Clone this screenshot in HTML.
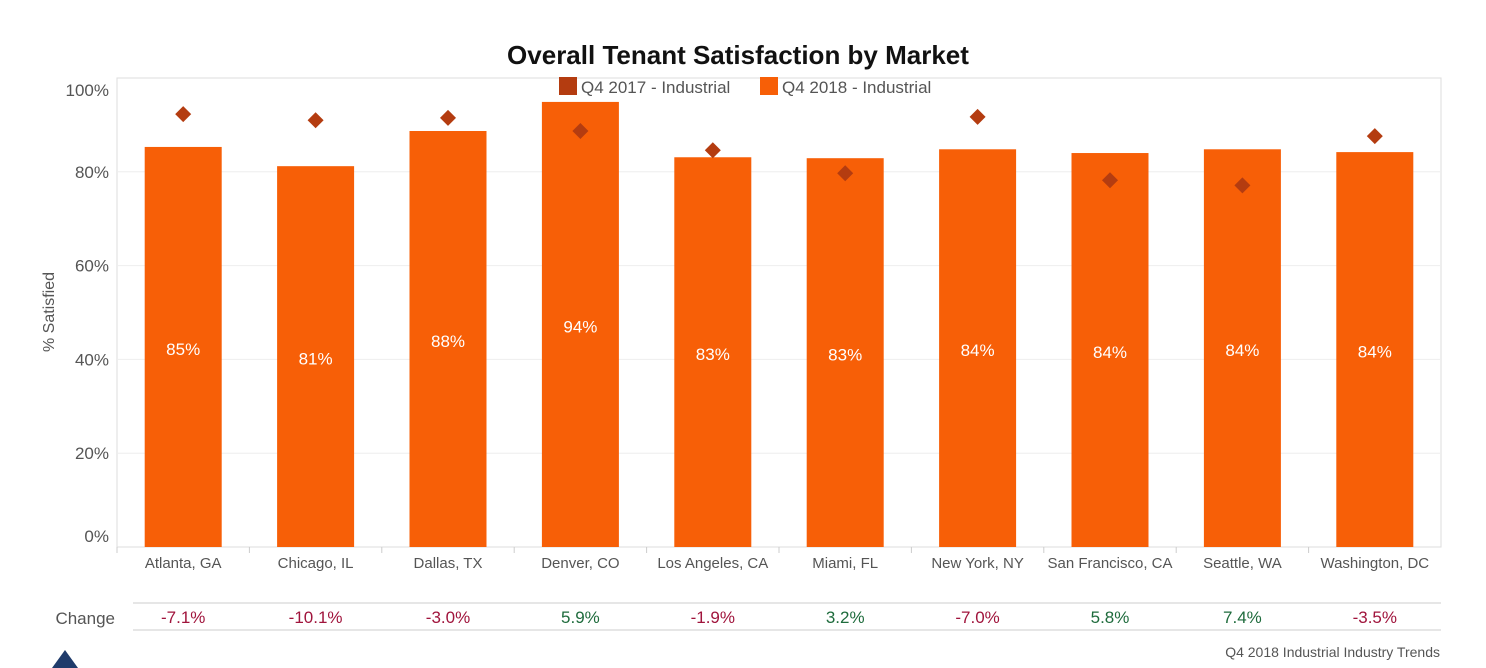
<!DOCTYPE html>
<html><head><meta charset="utf-8"><style>
body{margin:0;background:#fff;font-family:"Liberation Sans",sans-serif;}
svg{display:block}
</style></head><body>
<svg id="c" width="1486" height="668" xmlns="http://www.w3.org/2000/svg">
<text x="738" y="64" text-anchor="middle" font-size="26" font-weight="bold" fill="#111">Overall Tenant Satisfaction by Market</text>
<rect x="117" y="78" width="1324" height="469" fill="none" stroke="#ddd"/>
<g>
<rect x="559" y="77" width="18" height="18" fill="#b43c10"/>
<text x="581" y="93" font-size="17" fill="#555">Q4 2017 - Industrial</text>
<rect x="760" y="77" width="18" height="18" fill="#f75f07"/>
<text x="782" y="93" font-size="17" fill="#555">Q4 2018 - Industrial</text>
</g>
<text transform="translate(54,312) rotate(-90)" text-anchor="middle" font-size="16" fill="#555">% Satisfied</text>
<g id="grid"></g><g id="bars"></g><g id="marks"></g><g id="xl"></g><g id="chg"></g>
<line x1="133" y1="603" x2="1441" y2="603" stroke="#ccc"/>
<line x1="133" y1="630" x2="1441" y2="630" stroke="#ccc"/>
<text x="115" y="624" text-anchor="end" font-size="17" fill="#555">Change</text>
<text x="1440" y="657" text-anchor="end" font-size="14" fill="#555">Q4 2018   Industrial Industry Trends</text>
<path d="M52 668 L65 650 L78 668 Z" fill="#1f3b6b"/>
</svg>
<script>
const categories=["Atlanta, GA","Chicago, IL","Dallas, TX","Denver, CO","Los Angeles, CA","Miami, FL","New York, NY","San Francisco, CA","Seattle, WA","Washington, DC"];
const values2018=[85.3,81.2,88.7,94.9,83.1,82.9,84.8,84.0,84.8,84.2];
const labels2018=["85%","81%","88%","94%","83%","83%","84%","84%","84%","84%"];
const values2017=[92.3,91.0,91.5,88.7,84.6,79.7,91.7,78.2,77.1,87.6];
const changes=["-7.1%","-10.1%","-3.0%","5.9%","-1.9%","3.2%","-7.0%","5.8%","7.4%","-3.5%"];
const yTicks=[0,20,40,60,80,100];
const NS="http://www.w3.org/2000/svg";
const L=117,R=1441,T=78,B=547;
const y=v=>B-v/100*(B-T);
const bw=(R-L)/categories.length;
const xc=i=>L+bw*(i+0.5);
function mk(t,a,p,txt){const e=document.createElementNS(NS,t);for(const k in a)e.setAttribute(k,a[k]);if(txt!==undefined)e.textContent=txt;document.getElementById(p).appendChild(e);return e;}
yTicks.forEach(v=>{
  if(v>0&&v<100){const g=mk('line',{x1:L,x2:R,y1:y(v),y2:y(v),stroke:'#eee'},'grid');
  
  }
  let ty=y(v)+6; if(v===0)ty=y(v)-5; if(v===100)ty=y(v)+18;
  const t=mk('text',{x:109,y:ty,'text-anchor':'end','font-size':17,fill:'#555'},'grid',v+'%');
  
  
});
categories.forEach((c,i)=>{
  const b=mk('rect',{x:xc(i)-38.5,y:y(values2018[i]),width:77,height:B-y(values2018[i]),fill:'#f75f07'},'bars');
  
  
  const lt=mk('text',{x:xc(i),y:(y(values2018[i])+B)/2+8,'text-anchor':'middle','font-size':17,fill:'#fff'},'bars',labels2018[i]);
  
  
  const yy=y(values2017[i]),x=xc(i);
  const d=mk('path',{d:`M${x} ${yy-8}L${x+8} ${yy}L${x} ${yy+8}L${x-8} ${yy}Z`,fill:'#b43c10'},'marks');
  
  
  const tk=mk('line',{x1:L+bw*i,x2:L+bw*i,y1:B,y2:B+6,stroke:'#ccc'},'xl');
  
  
  const xl=mk('text',{x:x,y:568,'text-anchor':'middle','font-size':15,fill:'#555'},'xl',c);
  
  
  const ch=mk('text',{x:x,y:623,'text-anchor':'middle','font-size':17,fill:changes[i][0]==='-'?'#a0143c':'#1e6b3c'},'chg',changes[i]);
  
  
});
</script>
</body></html>
